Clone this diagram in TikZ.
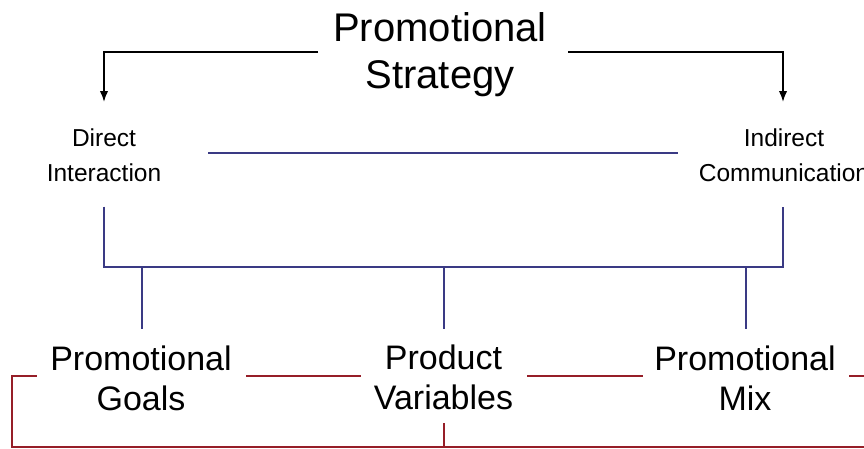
\documentclass[tikz,border=0pt]{standalone}
\usepackage{fontspec}
\setmainfont{Liberation Sans}
\usetikzlibrary{arrows.meta}
\definecolor{bluel}{RGB}{58,58,132}
\definecolor{redl}{RGB}{150,30,40}
\tikzset{
  lbl/.style={anchor=base, align=center, inner sep=0pt, text=black},
  titlefont/.style={font=\fontsize{40}{46.7}\selectfont},
  sidefont/.style={font=\fontsize{24.5}{35}\selectfont},
  botfont/.style={font=\fontsize{34}{40.5}\selectfont},
  blackline/.style={draw=black, line width=1.8pt, -{Latex[length=11pt,width=8.5pt]}},
  blueline/.style={draw=bluel, line width=2pt},
  redline/.style={draw=redl, line width=2pt},
}
\begin{document}
\begin{tikzpicture}[x=1pt,y=-1pt]
\useasboundingbox[fill=white] (0,0) rectangle (864,448);
% labels (anchor base = baseline of last line)
\node[lbl,titlefont] (title) at (440,88.3) {Promotional\\Strategy};
\node[lbl,sidefont] (direct) at (104,181.7) {Direct\\Interaction};
\node[lbl,sidefont] (indirect) at (784,181.7) {Indirect\\Communication};
\node[lbl,botfont] (goals) at (141,410.5) {Promotional\\Goals};
\node[lbl,botfont] (product) at (443.5,409.8) {Product\\Variables};
\node[lbl,botfont] (mix) at (745,410.5) {Promotional\\Mix};
% connector end points
\coordinate (tL) at (318,52);
\coordinate (tR) at (568,52);
\coordinate (dTop) at (104,102);
\coordinate (iTop) at (783,102);
\coordinate (mL) at (208,153.3);
\coordinate (mR) at (678,153.3);
\coordinate (dBot) at (103.5,206.7);
\coordinate (iBot) at (783,206.7);
\coordinate (busL) at (103.5,267.3);
\coordinate (busR) at (783,267.3);
\coordinate (gTop) at (142,329);
\coordinate (pTop) at (443.5,329);
\coordinate (xTop) at (745.5,329);
\coordinate (gL) at (36.7,376);
\coordinate (gR) at (246,376);
\coordinate (pL) at (360.7,376);
\coordinate (pR) at (527.3,376);
\coordinate (xL) at (642.7,376);
\coordinate (xR) at (849.3,376);
\coordinate (xOut) at (875,376);
\coordinate (pBot) at (443.5,423.3);
\coordinate (loopL) at (11.7,446.5);
\coordinate (loopR) at (875,446.5);
% black arrows
\draw[blackline] (tL) -| (dTop);
\draw[blackline] (tR) -| (iTop);
% blue lines
\draw[blueline] (mL) -- (mR);
\draw[blueline] (dBot) -- (busL) -- (busR) -- (iBot);
\draw[blueline] (gTop |- busL) -- (gTop);
\draw[blueline] (pTop |- busL) -- (pTop);
\draw[blueline] (xTop |- busL) -- (xTop);
% red lines
\draw[redline] (gL) -| (loopL) -- (loopR);
\draw[redline] (gR) -- (pL);
\draw[redline] (pR) -- (xL);
\draw[redline] (xR) -- (xOut);
\draw[redline] (pBot) -- (pBot |- loopL);
\end{tikzpicture}
\end{document}
